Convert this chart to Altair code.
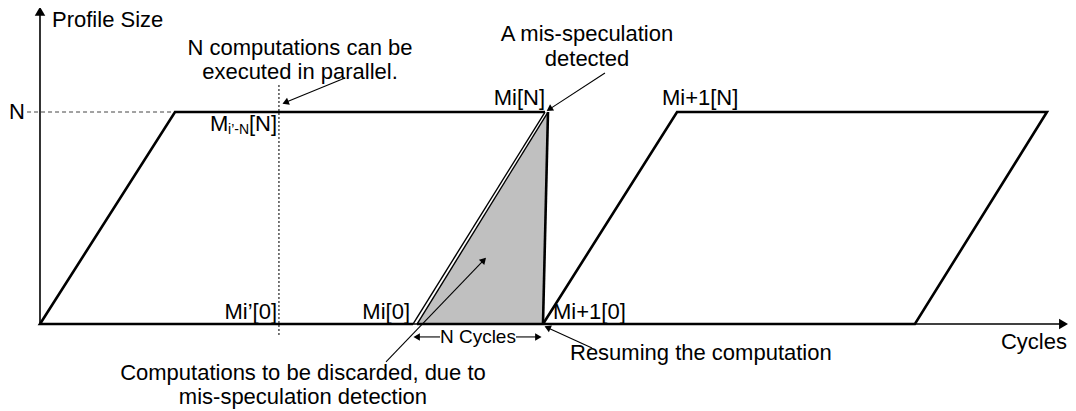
import math
import altair as alt
import pandas as pd

# x: cycles, in units of N cycles;  y: profile size, in units of N
# ---------------- outlines ----------------
par1_x = [2.763, 0.0, 1.0, 3.741]
par1_y = [0.0, 0.0, 1.0, 1.0]
par2_x = [3.726, 4.719, 7.459, 6.481, 3.726]
par2_y = [0.0, 1.0, 1.0, 0.0, 0.0]
drop_x = [3.763, 3.726]
drop_y = [1.0, 0.0]
base_x = [2.793, 3.726]
base_y = [0.0, 0.0]
mi_outer_x = [2.763, 3.741]
mi_outer_y = [0.0, 1.0]
mi_inner_x = [2.793, 3.763]
mi_inner_y = [0.0, 1.0]

# discarded computations (left / right edge at each level)
disc_y = [0.0, 1.0]
disc_left = [2.793, 3.763]
disc_right = [3.726, 3.763]

# guide lines
nlevel_x = [-0.096, 1.0]
nlevel_y = [1.0, 1.0]
parallel_x = [1.770, 1.770]
parallel_y = [-0.052, 1.127]

# axes: start -> tip
axis_x0 = [0.0, 0.0]
axis_y0 = [0.0, 0.0]
axis_x1 = [0.0, 7.600]
axis_y1 = [1.486, 0.0]

# annotation arrows: start -> tip
arrow_x0 = [2.259, 4.185, 2.563, 4.089, 2.963, 3.526]
arrow_y0 = [1.160, 1.184, -0.179, -0.113, -0.061, -0.061]
arrow_x1 = [1.807, 3.763, 3.296, 3.748, 2.778, 3.704]
arrow_y1 = [1.042, 1.009, 0.307, -0.014, -0.061, -0.061]

# ---------------- texts ----------------
left_text = ["Profile Size", "Mi+1[N]", "M", "i\u2019-N", "[N]", "Mi+1[0]", "Resuming the computation"]
left_x = [0.089, 4.607, 1.259, 1.393, 1.548, 3.800, 3.926]
left_y = [1.434, 1.066, 0.943, 0.915, 0.943, 0.057, -0.137]

center_text = ["N computations can be", "executed in parallel.", "A mis-speculation", "detected",
               "N Cycles", "Computations to be discarded, due to", "mis-speculation detection"]
center_x = [1.926, 1.926, 4.052, 4.052, 3.244, 1.948, 1.948]
center_y = [1.302, 1.189, 1.368, 1.250, -0.061, -0.231, -0.344]

right_text = ["N", "Mi[N]", "Mi\u2019[0]", "Mi[0]", "Cycles"]
right_x = [-0.111, 3.741, 1.756, 2.741, 7.607]
right_y = [1.0, 1.066, 0.057, 0.057, -0.085]

# ---------------- layout ----------------
W, H = 1060, 395
XD = [-0.237, 7.615]
YD = [-0.3726, 1.4906]
kx = W / (XD[1] - XD[0])
ky = H / (YD[1] - YD[0])
xs = alt.Scale(domain=XD, nice=False, zero=False)
ys = alt.Scale(domain=YD, nice=False, zero=False)
FONT = "Liberation Sans"
small_sizes = {"N Cycles": 19, "i\u2019-N": 14}


def path_df(series):
    rows = []
    for name, xs_, ys_ in series:
        for i, (a, b) in enumerate(zip(xs_, ys_)):
            rows.append({"name": name, "order": i, "x": a, "y": b})
    return pd.DataFrame(rows)


def line_layer(df, **kw):
    return alt.Chart(df).mark_line(color="black", **kw).encode(
        x=alt.X("x:Q", scale=xs, axis=None),
        y=alt.Y("y:Q", scale=ys, axis=None),
        detail="name:N",
        order="order:Q",
    )


def heads(x0, y0, x1, y1, size):
    h = math.sqrt(3) / 2 * math.sqrt(size) / 2
    rows = []
    for a, b, c, d in zip(x0, y0, x1, y1):
        dx = (c - a) * kx
        dy = -(d - b) * ky
        L = math.hypot(dx, dy)
        ux, uy = dx / L, dy / L
        ang = math.degrees(math.atan2(ux, -uy)) % 360
        rows.append({"x": c - h * 0.85 * ux / kx, "y": d + h * 0.85 * uy / ky, "ang": ang})
    return alt.Chart(pd.DataFrame(rows)).mark_point(
        shape="triangle", filled=True, color="black", opacity=1, size=size, strokeWidth=0
    ).encode(
        x=alt.X("x:Q", scale=xs, axis=None),
        y=alt.Y("y:Q", scale=ys, axis=None),
        angle=alt.Angle("ang:Q", scale=None),
    )


def rules(x0, y0, x1, y1, width):
    df = pd.DataFrame({"x": x0, "y": y0, "x2": x1, "y2": y1})
    return alt.Chart(df).mark_rule(color="black", strokeWidth=width).encode(
        x=alt.X("x:Q", scale=xs, axis=None),
        y=alt.Y("y:Q", scale=ys, axis=None),
        x2="x2:Q",
        y2="y2:Q",
    )


def texts(t, x, y, align):
    df = pd.DataFrame({"t": t, "x": x, "y": y, "fs": [small_sizes.get(s, 22) for s in t]})
    return alt.Chart(df).mark_text(
        align=align, baseline="middle", font=FONT, color="black"
    ).encode(
        x=alt.X("x:Q", scale=xs, axis=None),
        y=alt.Y("y:Q", scale=ys, axis=None),
        text="t:N",
        size=alt.Size("fs:Q", scale=None),
    )


disc = alt.Chart(pd.DataFrame({"y": disc_y, "l": disc_left, "r": disc_right})).mark_area(
    orient="horizontal", color="#c0c0c0", opacity=1
).encode(
    y=alt.Y("y:Q", scale=ys, axis=None),
    x=alt.X("l:Q", scale=xs, axis=None),
    x2="r:Q",
)

thick = line_layer(path_df([("par1", par1_x, par1_y), ("par2", par2_x, par2_y),
                            ("drop", drop_x, drop_y), ("base", base_x, base_y)]),
                   strokeWidth=2.6, strokeJoin="miter")
thin = line_layer(path_df([("outer", mi_outer_x, mi_outer_y), ("inner", mi_inner_x, mi_inner_y)]),
                  strokeWidth=1.4)
dashed = alt.Chart(path_df([("n", nlevel_x, nlevel_y)])).mark_line(
    color="#444444", strokeWidth=1, strokeDash=[4, 3]
).encode(x=alt.X("x:Q", scale=xs, axis=None), y=alt.Y("y:Q", scale=ys, axis=None), order="order:Q")
dotted = alt.Chart(path_df([("p", parallel_x, parallel_y)])).mark_line(
    color="#222222", strokeWidth=1.2, strokeDash=[2, 2]
).encode(x=alt.X("x:Q", scale=xs, axis=None), y=alt.Y("y:Q", scale=ys, axis=None), order="order:Q")

chart = alt.layer(
    disc,
    dashed,
    dotted,
    rules(axis_x0, axis_y0, axis_x1, axis_y1, 1.6),
    thick,
    thin,
    heads(axis_x0, axis_y0, axis_x1, axis_y1, 110),
    rules(arrow_x0, arrow_y0, arrow_x1, arrow_y1, 1.1),
    heads(arrow_x0, arrow_y0, arrow_x1, arrow_y1, 55),
    texts(left_text, left_x, left_y, "left"),
    texts(center_text, center_x, center_y, "center"),
    texts(right_text, right_x, right_y, "right"),
).properties(
    width=W, height=H,
    padding={"left": 0, "top": 0, "right": 0, "bottom": 8},
    autosize=alt.AutoSizeParams(type="none"), background="white"
).configure_view(stroke=None)

chart.save("out.html", embed_options={"renderer": "svg", "actions": False})
